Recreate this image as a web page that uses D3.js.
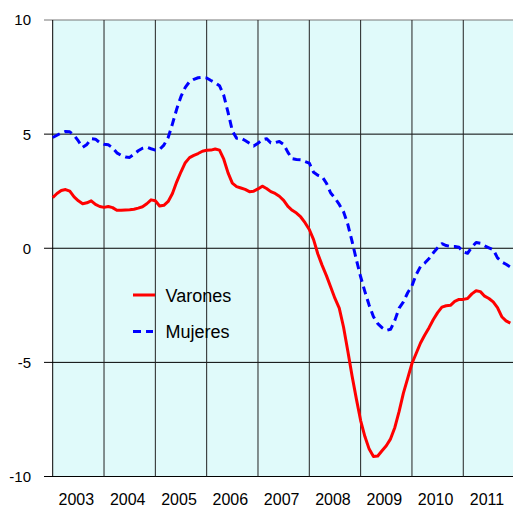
<!DOCTYPE html>
<html>
<head>
<meta charset="utf-8">
<script src="https://cdn.jsdelivr.net/npm/d3@7"></script>
<style>
  body { margin: 0; background: #fff; }
  svg { display: block; font-family: Arial, "Liberation Sans", sans-serif; }
</style>
</head>
<body>
<script>
// Serie mensual, enero 2003 - diciembre 2011
const anios = [2003, 2004, 2005, 2006, 2007, 2008, 2009, 2010, 2011];
const ticksY = [-10, -5, 0, 5, 10];

const varones = [
  2.22, 2.40, 2.53, 2.57, 2.50, 2.25, 2.08, 1.95, 1.99, 2.08, 1.92, 1.83,
  1.79, 1.83, 1.78, 1.66, 1.66, 1.68, 1.69, 1.71, 1.76, 1.82, 1.95, 2.12,
  2.08, 1.85, 1.88, 2.05, 2.40, 2.91, 3.35, 3.75, 3.97, 4.07, 4.15, 4.25,
  4.29, 4.30, 4.35, 4.30, 3.90, 3.30, 2.85, 2.70, 2.64, 2.58, 2.48, 2.50,
  2.60, 2.72, 2.62, 2.48, 2.40, 2.28, 2.10, 1.83, 1.66, 1.54, 1.37, 1.12,
  0.82, 0.38, -0.25, -0.75, -1.20, -1.70, -2.20, -2.62, -3.45, -4.50, -5.60, -6.60,
  -7.55, -8.25, -8.80, -9.12, -9.10, -8.87, -8.65, -8.35, -7.85, -7.15, -6.35, -5.70,
  -5.05, -4.60, -4.15, -3.80, -3.48, -3.12, -2.82, -2.58, -2.52, -2.50, -2.33, -2.24,
  -2.24, -2.20, -2.00, -1.86, -1.90, -2.10, -2.20, -2.35, -2.60, -3.00, -3.18, -3.28
];

const mujeres = [
  4.85, 4.95, 5.05, 5.12, 5.10, 4.95, 4.70, 4.42, 4.55, 4.80, 4.78, 4.63,
  4.56, 4.53, 4.40, 4.18, 4.07, 4.00, 3.98, 4.12, 4.27, 4.38, 4.43, 4.36,
  4.30, 4.33, 4.52, 4.85, 5.45, 6.10, 6.65, 7.05, 7.30, 7.40, 7.47, 7.49,
  7.46, 7.35, 7.25, 7.12, 6.70, 5.95, 5.15, 4.82, 4.82, 4.72, 4.60, 4.48,
  4.60, 4.75, 4.80, 4.62, 4.63, 4.68, 4.55, 4.20, 3.92, 3.89, 3.88, 3.80,
  3.73, 3.33, 3.20, 3.14, 2.85, 2.42, 2.20, 1.92, 1.60, 1.05, 0.30, -0.50,
  -1.25, -1.90, -2.50, -3.00, -3.30, -3.48, -3.60, -3.55, -3.16, -2.62, -2.35, -1.95,
  -1.65, -1.15, -0.80, -0.65, -0.45, -0.20, 0.02, 0.20, 0.12, 0.08, 0.08, 0.04,
  -0.16, -0.22, 0.05, 0.25, 0.22, 0.10, 0.02, -0.06, -0.42, -0.60, -0.70, -0.82
];

const series = [
  { nombre: "Varones", valores: varones, color: "#ff0000", dash: null },
  { nombre: "Mujeres", valores: mujeres, color: "#0000ff", dash: "8,5" }
];

const width = 513, height = 507;
const margen = { izq: 52.7, der: 514.6, sup: 20, inf: 476.5 };

const svg = d3.select("body").append("svg")
  .attr("width", width)
  .attr("height", height);

// escala en meses desde enero 2003
const x = d3.scaleLinear().domain([0, anios.length * 12]).range([margen.izq, margen.der]);
const y = d3.scaleLinear().domain([-10, 10]).range([margen.inf, margen.sup]);

// fondo del área de trazado
svg.append("rect")
  .attr("x", margen.izq).attr("y", margen.sup)
  .attr("width", margen.der - margen.izq).attr("height", margen.inf - margen.sup)
  .attr("fill", "#e0fafa");

// líneas horizontales
svg.append("g")
  .selectAll("line")
  .data(ticksY)
  .join("line")
  .attr("x1", 44).attr("x2", margen.der)
  .attr("y1", d => y(d)).attr("y2", d => y(d))
  .attr("stroke", d => d === 10 ? "#777" : "#000")
  .attr("stroke-width", 1);

// separadores de año
svg.append("g")
  .selectAll("line")
  .data(d3.range(1, anios.length))
  .join("line")
  .attr("x1", d => x(d * 12)).attr("x2", d => x(d * 12))
  .attr("y1", margen.sup).attr("y2", margen.inf)
  .attr("stroke", "#222")
  .attr("stroke-width", 1);

// eje vertical
svg.append("line")
  .attr("x1", margen.izq).attr("x2", margen.izq)
  .attr("y1", margen.sup).attr("y2", margen.inf)
  .attr("stroke", "#000");

// etiquetas eje Y
svg.append("g")
  .selectAll("text")
  .data(ticksY)
  .join("text")
  .attr("x", 31)
  .attr("y", d => y(d))
  .attr("dy", "0.36em")
  .attr("text-anchor", "end")
  .attr("font-size", 15)
  .attr("fill", "#000")
  .text(d => d);

// etiquetas eje X (centro del año)
svg.append("g")
  .selectAll("text")
  .data(anios)
  .join("text")
  .attr("x", (d, i) => x(i * 12 + 6) - 2)
  .attr("y", 505)
  .attr("text-anchor", "middle")
  .attr("font-size", 16)
  .attr("fill", "#000")
  .text(d => d);

// líneas de datos
const linea = d3.line()
  .x((d, i) => x(i))
  .y(d => y(d));

svg.append("g")
  .selectAll("path")
  .data(series)
  .join("path")
  .attr("d", d => linea(d.valores))
  .attr("fill", "none")
  .attr("stroke", d => d.color)
  .attr("stroke-width", 3)
  .attr("stroke-dasharray", d => d.dash)
  .attr("stroke-linejoin", "round");

// leyenda
const leyenda = svg.append("g")
  .selectAll("g")
  .data(series)
  .join("g")
  .attr("transform", (d, i) => `translate(133, ${295 + i * 36.5})`);

leyenda.append("line")
  .attr("x1", 0).attr("x2", d => d.dash ? 20 : 22)
  .attr("y1", 0).attr("y2", 0)
  .attr("stroke", d => d.color)
  .attr("stroke-width", 3)
  .attr("stroke-dasharray", d => d.dash);

leyenda.append("text")
  .attr("x", 32.5)
  .attr("y", 6.5)
  .attr("font-size", 18)
  .attr("fill", "#000")
  .text(d => d.nombre);
</script>
</body>
</html>
